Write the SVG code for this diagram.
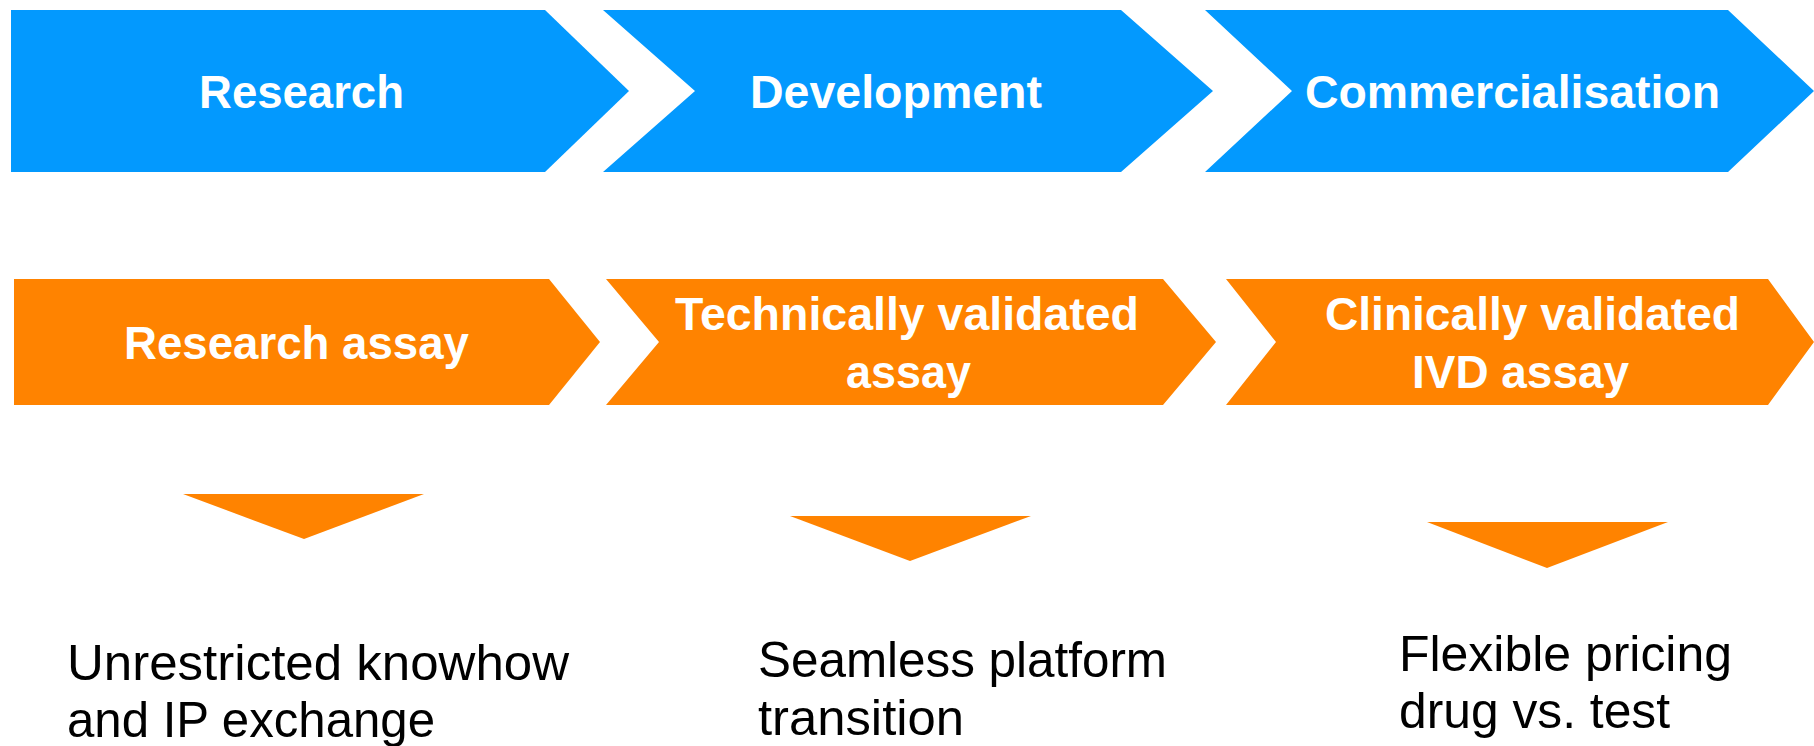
<svg xmlns="http://www.w3.org/2000/svg" width="1814" height="746" viewBox="0 0 1814 746">
<style>
.blue{fill:#0399fe}
.orange{fill:#ff8300}
.hd{font-family:"Liberation Sans",Arial,sans-serif;font-weight:bold;font-size:47px;fill:#ffffff}
.bd{font-family:"Liberation Sans",Arial,sans-serif;font-size:50px;fill:#000000}
</style>
<rect width="1814" height="746" fill="#ffffff"/>
<g id="phase-research">
<path class="blue" d="M11,10 H545 L629,91 L545,172 H11 Z"/>
<text class="hd" x="199" y="108" textLength="205" lengthAdjust="spacingAndGlyphs">Research</text>
</g>
<g id="phase-development">
<path class="blue" d="M603,10 H1121 L1213,91 L1121,172 H603 L695,91 Z"/>
<text class="hd" x="750" y="108" textLength="292" lengthAdjust="spacingAndGlyphs">Development</text>
</g>
<g id="phase-commercialisation">
<path class="blue" d="M1205,10 H1728 L1814,91 L1728,172 H1205 L1292,91 Z"/>
<text class="hd" x="1305" y="108" textLength="415" lengthAdjust="spacingAndGlyphs">Commercialisation</text>
</g>
<g id="assay-research">
<path class="orange" d="M14,279 H549 L600,342 L549,405 H14 Z"/>
<text class="hd" x="124" y="359" textLength="345" lengthAdjust="spacingAndGlyphs">Research assay</text>
</g>
<g id="assay-technical">
<path class="orange" d="M606,279 H1163 L1216,342 L1163,405 H606 L659,342 Z"/>
<text class="hd" x="675" y="330" textLength="464" lengthAdjust="spacingAndGlyphs">Technically validated</text>
<text class="hd" x="846" y="388" textLength="125" lengthAdjust="spacingAndGlyphs">assay</text>
</g>
<g id="assay-clinical">
<path class="orange" d="M1226,279 H1768 L1814,342 L1768,405 H1226 L1276,342 Z"/>
<text class="hd" x="1325" y="330" textLength="415" lengthAdjust="spacingAndGlyphs">Clinically validated</text>
<text class="hd" x="1412" y="388" textLength="217" lengthAdjust="spacingAndGlyphs">IVD assay</text>
</g>
<g id="connectors">
<polygon class="orange" points="183,494 424,494 304,539"/>
<polygon class="orange" points="790,516 1031,516 910,561"/>
<polygon class="orange" points="1427,522 1668,522 1547,568"/>
</g>
<g id="benefit-knowhow">
<text class="bd" x="67" y="680" textLength="502" lengthAdjust="spacingAndGlyphs">Unrestricted knowhow</text>
<text class="bd" x="67" y="737" textLength="368" lengthAdjust="spacingAndGlyphs">and IP exchange</text>
</g>
<g id="benefit-platform">
<text class="bd" x="758" y="677" textLength="409" lengthAdjust="spacingAndGlyphs">Seamless platform</text>
<text class="bd" x="758" y="735" textLength="206" lengthAdjust="spacingAndGlyphs">transition</text>
</g>
<g id="benefit-pricing">
<text class="bd" x="1399" y="671" textLength="333" lengthAdjust="spacingAndGlyphs">Flexible pricing</text>
<text class="bd" x="1399" y="728" textLength="271" lengthAdjust="spacingAndGlyphs">drug vs. test</text>
</g>
</svg>
